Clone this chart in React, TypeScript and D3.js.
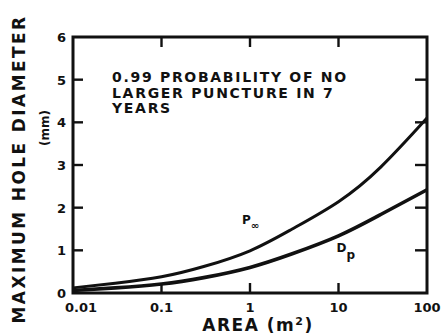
import { useEffect, useRef } from "react";
import * as d3 from "d3";

const areaTicks = [0.01, 0.1, 1, 10, 100];
const areaTickLabels = ["0.01", "0.1", "1", "10", "100"];
const diameterTicks = [0, 1, 2, 3, 4, 5, 6];

const curveAreas = [0.01, 0.03, 0.1, 0.3, 1, 3, 10, 30, 100];
const pInfValues = [0.12, 0.23, 0.38, 0.62, 0.99, 1.5, 2.14, 2.95, 4.1];
const dpValues = [0.06, 0.12, 0.21, 0.36, 0.6, 0.92, 1.34, 1.84, 2.42];

const noteLines = ["0.99 PROBABILITY OF NO", "LARGER PUNCTURE IN 7", "YEARS"];

const W = 443;
const H = 335;
const ink = "#111";
const font = "'DejaVu Sans', sans-serif";

const App = () => {
  const svgRef = useRef<SVGSVGElement>(null);

  useEffect(() => {
    const svg = d3.select(svgRef.current);
    svg.selectAll("*").remove();

    const margin = { left: 73, top: 37, right: 16, bottom: 42 };
    const innerWidth = W - margin.left - margin.right;
    const innerHeight = H - margin.top - margin.bottom;

    const x = d3.scaleLog().domain([0.01, 100]).range([0, innerWidth]);
    const y = d3.scaleLinear().domain([0, 6]).range([innerHeight, 0]);

    const g = svg.append("g").attr("transform", `translate(${margin.left},${margin.top})`);

    // frame
    g.append("rect")
      .attr("width", innerWidth)
      .attr("height", innerHeight)
      .attr("fill", "none")
      .attr("stroke", ink)
      .attr("stroke-width", 3);

    // inward ticks on all four sides
    const tick = 10;
    areaTicks.slice(1, -1).forEach(v => {
      g.append("line").attr("x1", x(v)).attr("x2", x(v)).attr("y1", innerHeight).attr("y2", innerHeight - tick)
        .attr("stroke", ink).attr("stroke-width", 2.4);
      g.append("line").attr("x1", x(v)).attr("x2", x(v)).attr("y1", 0).attr("y2", tick)
        .attr("stroke", ink).attr("stroke-width", 2.4);
    });
    diameterTicks.slice(1, -1).forEach(v => {
      g.append("line").attr("x1", 0).attr("x2", tick).attr("y1", y(v)).attr("y2", y(v))
        .attr("stroke", ink).attr("stroke-width", 2.4);
      g.append("line").attr("x1", innerWidth).attr("x2", innerWidth - tick - 2).attr("y1", y(v)).attr("y2", y(v))
        .attr("stroke", ink).attr("stroke-width", 2.4);
    });

    // tick labels
    g.selectAll(".xl")
      .data(areaTicks)
      .enter()
      .append("text")
      .attr("x", (d, i) => x(d) + (i === 0 ? 8 : 0))
      .attr("y", innerHeight + 19)
      .attr("text-anchor", "middle")
      .attr("font-family", font)
      .attr("font-weight", "bold")
      .attr("font-size", 13)
      .attr("fill", ink)
      .text((d, i) => areaTickLabels[i]);

    g.selectAll(".yl")
      .data(diameterTicks)
      .enter()
      .append("text")
      .attr("x", -7)
      .attr("y", d => y(d) + 5)
      .attr("text-anchor", "end")
      .attr("font-family", font)
      .attr("font-weight", "bold")
      .attr("font-size", 13)
      .attr("fill", ink)
      .text(d => d);

    // curves
    const line = d3.line<[number, number]>()
      .x(d => x(d[0]))
      .y(d => y(d[1]))
      .curve(d3.curveNatural);

    g.append("path")
      .datum(curveAreas.map((a, i) => [a, pInfValues[i]] as [number, number]))
      .attr("d", line)
      .attr("fill", "none")
      .attr("stroke", ink)
      .attr("stroke-width", 3);

    g.append("path")
      .datum(curveAreas.map((a, i) => [a, dpValues[i]] as [number, number]))
      .attr("d", line)
      .attr("fill", "none")
      .attr("stroke", ink)
      .attr("stroke-width", 3.6);

    // curve labels
    const pl = g.append("text")
      .attr("x", x(1) - 8)
      .attr("y", y(1.62))
      .attr("font-family", font)
      .attr("font-weight", "bold")
      .attr("font-size", 12)
      .attr("fill", ink);
    pl.append("tspan").text("P");
    pl.append("tspan").attr("dy", 5).attr("font-size", 10).text("∞");

    const dl = g.append("text")
      .attr("x", x(10) - 2)
      .attr("y", y(0.95))
      .attr("font-family", font)
      .attr("font-weight", "bold")
      .attr("font-size", 12)
      .attr("fill", ink);
    dl.append("tspan").text("D");
    dl.append("tspan").attr("dy", 7).attr("font-size", 12).text("p");

    // annotation
    g.selectAll(".note")
      .data(noteLines)
      .enter()
      .append("text")
      .attr("x", 112 - margin.left)
      .attr("y", (d, i) => 82 - margin.top + i * 15.5)
      .attr("font-family", font)
      .attr("font-weight", "bold")
      .attr("font-size", 14)
      .attr("letter-spacing", 1.7)
      .attr("fill", ink)
      .text(d => d);

    // x title
    const xt = svg.append("text")
      .attr("x", 258)
      .attr("y", 331)
      .attr("text-anchor", "middle")
      .attr("font-family", font)
      .attr("font-weight", "bold")
      .attr("font-size", 17)
      .attr("letter-spacing", 1.5)
      .attr("fill", ink);
    xt.append("tspan").text("AREA (m");
    xt.append("tspan").attr("dy", -6).attr("font-size", 11).text("2");
    xt.append("tspan").attr("dy", 6).text(")");

    // y title
    svg.append("text")
      .attr("transform", `translate(25,169) rotate(-90)`)
      .attr("text-anchor", "middle")
      .attr("font-family", font)
      .attr("font-weight", "bold")
      .attr("font-size", 17)
      .attr("letter-spacing", 2.4)
      .attr("fill", ink)
      .text("MAXIMUM HOLE DIAMETER");

    svg.append("text")
      .attr("transform", `translate(49,128) rotate(-90)`)
      .attr("text-anchor", "middle")
      .attr("font-family", font)
      .attr("font-weight", "bold")
      .attr("font-size", 12)
      .attr("fill", ink)
      .text("(mm)");
  }, []);

  return (
    <div>
      <svg
        ref={svgRef}
        width={W}
        height={H}
        style={{ position: "absolute", left: 0, top: 0, background: "#fff" }}
      />
    </div>
  );
};

export default App;
